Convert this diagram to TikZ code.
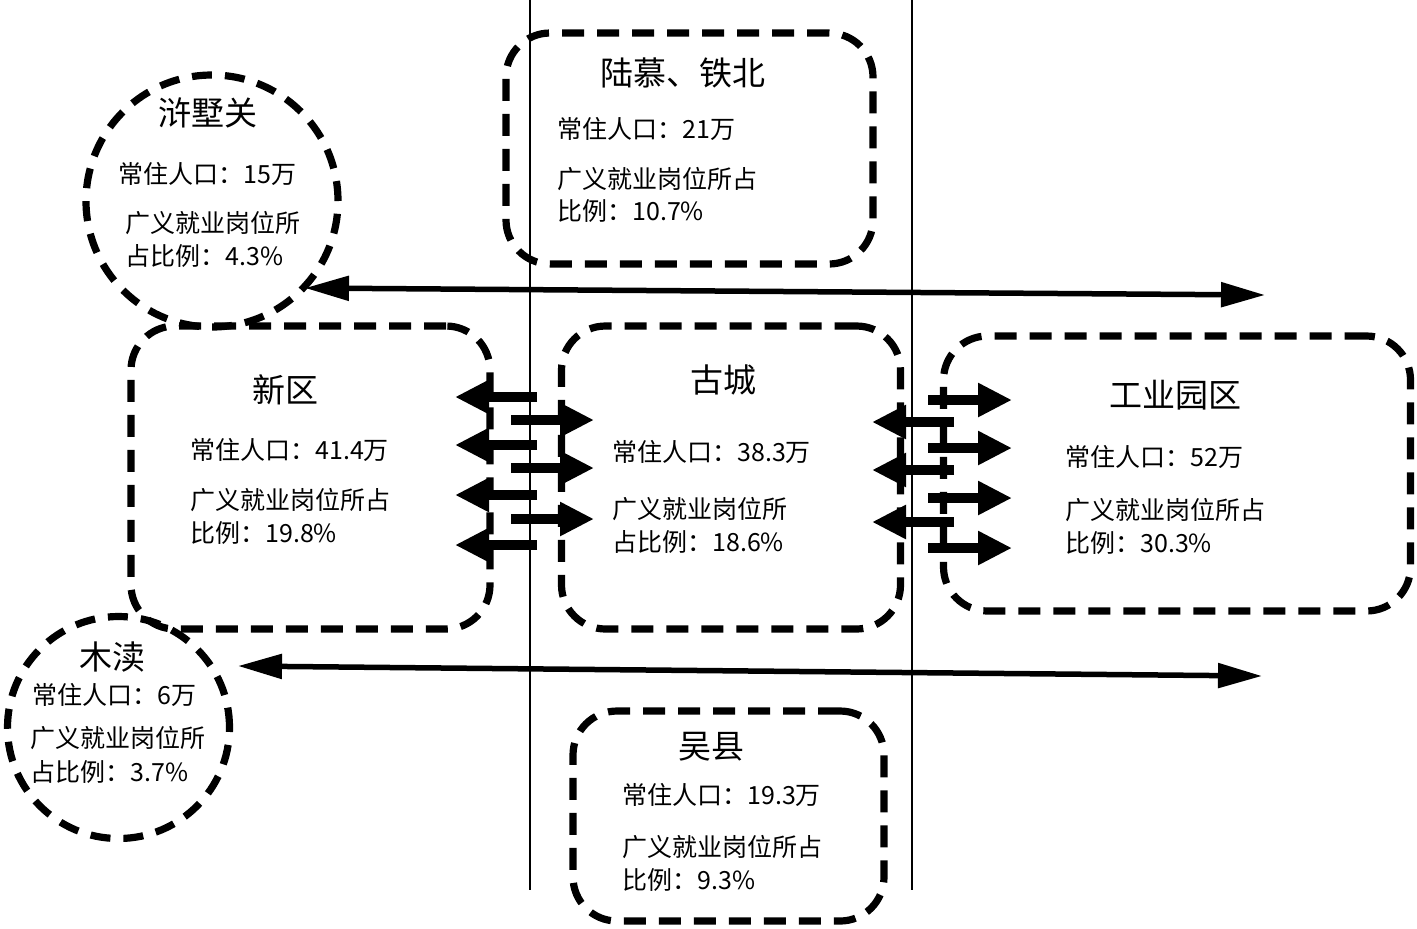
\documentclass[tikz,border=0pt]{standalone}
\usepackage{fontspec}
\setmainfont{Noto Sans CJK SC}
\usetikzlibrary{arrows.meta}
\tikzset{
 zone/.style={draw, line width=3.6pt, dash pattern=on 11pt off 6.5pt, rounded corners=22pt, rectangle, inner sep=0pt},
 ring/.style={draw, line width=3.6pt, dash pattern=on 10pt off 6.5pt, circle, inner sep=0pt},
 ttl/.style={font=\fontsize{16.5}{20}\selectfont, inner sep=0pt},
 txt/.style={font=\fontsize{12.5}{15}\selectfont, anchor=west, inner sep=0pt},
 flow/.style={line width=5pt, -{Triangle[length=17pt,width=16pt]}},
 longflow/.style={line width=2.75pt, {Triangle[length=22pt,width=12pt]}-{Triangle[length=22pt,width=12pt]}},
 divider/.style={line width=0.8pt}
}
\begin{document}
\begin{tikzpicture}[x=0.5pt,y=-0.5pt]
\useasboundingbox (0,0) rectangle (1417,928);
% dividers
\coordinate (d1t) at (530,0); \coordinate (d1b) at (530,890);
\coordinate (d2t) at (912,0); \coordinate (d2b) at (912,890);
\draw[divider] (d1t) -- (d1b);
\draw[divider] (d2t) -- (d2b);
% zones
\node[zone, minimum width=183.5pt, minimum height=115.5pt] (luomu) at (689.5,148.5) {};
\node[ring, minimum size=126pt] (xushu) at (212,201) {};
\node[zone, minimum width=179.5pt, minimum height=151.5pt] (xinqu) at (310.5,477.5) {};
\node[zone, minimum width=169.5pt, minimum height=151.5pt] (gucheng) at (731,477.5) {};
\node[zone, minimum width=233.5pt, minimum height=137.5pt] (gongye) at (1177,473.5) {};
\node[ring, minimum size=111pt] (mudu) at (118.5,727.5) {};
\node[zone, minimum width=155.5pt, minimum height=105pt] (wuxian) at (728.5,816) {};
% texts
\node[ttl] (t1) at (683,73) {陆慕、铁北};
\node[txt] (t1a) at (557,129) {常住人口：21万};
\node[txt] (t1b) at (557,179) {广义就业岗位所占};
\node[txt] (t1c) at (557,211) {比例：10.7\%};

\node[ttl] (t2) at (208,113) {浒墅关};
\node[txt] (t2a) at (118,174) {常住人口：15万};
\node[txt] (t2b) at (125,223) {广义就业岗位所};
\node[txt] (t2c) at (125,256) {占比例：4.3\%};

\node[ttl] (t3) at (285,390) {新区};
\node[txt] (t3a) at (190,450) {常住人口：41.4万};
\node[txt] (t3b) at (190,500) {广义就业岗位所占};
\node[txt] (t3c) at (190,533) {比例：19.8\%};

\node[ttl] (t4) at (723,380) {古城};
\node[txt] (t4a) at (612,452) {常住人口：38.3万};
\node[txt] (t4b) at (612,509) {广义就业岗位所};
\node[txt] (t4c) at (612,542) {占比例：18.6\%};

\node[ttl] (t5) at (1175,395) {工业园区};
\node[txt] (t5a) at (1065,457) {常住人口：52万};
\node[txt] (t5b) at (1065,510) {广义就业岗位所占};
\node[txt] (t5c) at (1065,543) {比例：30.3\%};

\node[ttl] (t6) at (112,657) {木渎};
\node[txt] (t6a) at (32,695) {常住人口：6万};
\node[txt] (t6b) at (30,738) {广义就业岗位所};
\node[txt] (t6c) at (30,772) {占比例：3.7\%};

\node[ttl] (t7) at (711,747) {吴县};
\node[txt] (t7a) at (622,795) {常住人口：19.3万};
\node[txt] (t7b) at (622,847) {广义就业岗位所占};
\node[txt] (t7c) at (622,880) {比例：9.3\%};
% long arrows
\coordinate (ua) at (305,288); \coordinate (ub) at (1265,295);
\coordinate (la) at (238,666); \coordinate (lb) at (1262,676);
\draw[longflow] (ua) -- (ub);
\draw[longflow] (la) -- (lb);
% short flows xinqu <-> gucheng
\foreach \y in {397,445,495,545} \draw[flow] (537,\y) -- (455,\y);
\foreach \y in {420,468,519} \draw[flow] (511,\y) -- (594,\y);
% short flows gucheng <-> gongye
\foreach \y in {400,448,498,548} \draw[flow] (928,\y) -- (1012,\y);
\foreach \y in {422,470,522} \draw[flow] (954,\y) -- (872,\y);
\end{tikzpicture}
\end{document}
